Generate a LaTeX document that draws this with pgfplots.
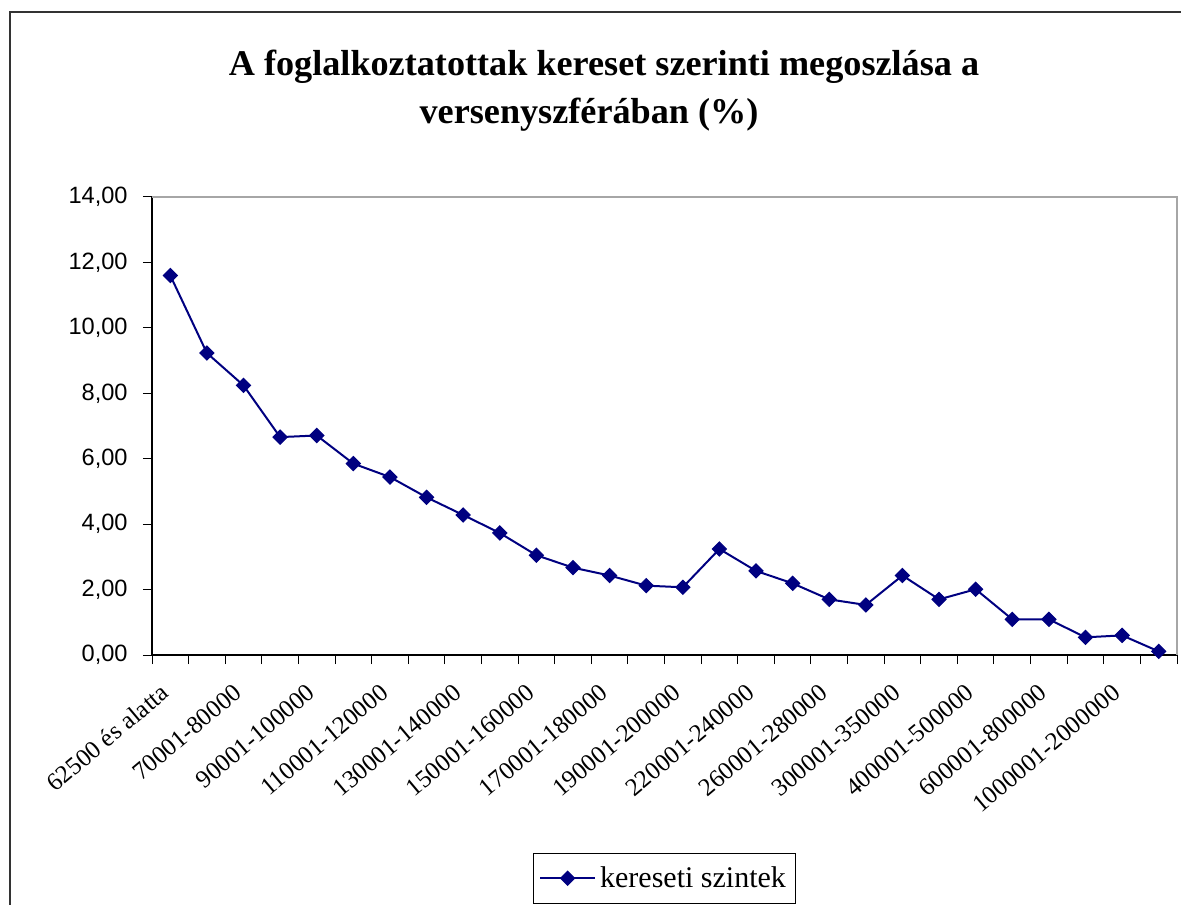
\documentclass[border=0pt]{standalone}
\usepackage{fontspec}
\setmainfont{Liberation Serif}
\newfontfamily\arialfont{Liberation Sans}
\usepackage{pgfplots}
\pgfplotsset{compat=1.18}
\definecolor{navyline}{RGB}{0,0,128}
\begin{document}
\begin{tikzpicture}
\path[use as bounding box] (0,0) rectangle (590.5pt,452pt);
\draw[line width=1pt, black!80] (4.9pt,-5pt) -- (4.9pt,446.2pt) -- (600pt,446.2pt);
\node[font=\fontsize{18.1}{22}\selectfont\bfseries, anchor=base, inner sep=0pt] at (302pt,414pt) {A foglalkoztatottak kereset szerinti megoszlása a};
\node[font=\fontsize{18.1}{22}\selectfont\bfseries, anchor=base, inner sep=0pt] at (294.5pt,390pt) {versenyszférában (\%)};
\begin{axis}[
  scale only axis, width=512.5pt, height=229pt,
  at={(76pt,124.5pt)}, anchor=south west,
  xmin=-0.5, xmax=27.5, ymin=0, ymax=14,
  axis x line*=bottom, axis y line*=left,
  axis line style={-, black, line width=0.7pt},
  ytick={0,2,...,14},
  yticklabel={\pgfmathprintnumber[fixed,fixed zerofill,precision=2,use comma,assume math mode=true]{\tick}},
  yticklabel style={font=\arialfont\fontsize{11.8}{14}\selectfont, inner sep=0pt, xshift=-7.5pt},
  xtick={-0.5,0.5,...,27.5},
  xticklabels={62500 és alatta,,70001-80000,,90001-100000,,110001-120000,,130001-140000,,150001-160000,,170001-180000,,190001-200000,,220001-240000,,260001-280000,,300001-350000,,400001-500000,,600001-800000,,1000001-2000000,,},
  tick align=outside,
  major tick length=4.5pt,
  tick style={black, line width=0.5pt},
  xticklabel style={font=\fontsize{12.5}{14}\selectfont, inner sep=0pt, anchor=east, xshift=6.5pt, yshift=-12.5pt, rotate=40},
  legend style={at={(0.5,-0.432)}, anchor=north, draw=black, line width=0.5pt, font=\fontsize{15}{18}\selectfont, inner xsep=3pt, inner ysep=4.5pt},
  legend image code/.code={\draw[#1, mark repeat=2, mark phase=2] plot coordinates {(0pt,0pt) (13.75pt,0pt) (27.5pt,0pt)};},
  clip=false,
]
\draw[gray!70, line width=0.8pt] (rel axis cs:0,1) -- (rel axis cs:1,1) -- (rel axis cs:1,0);
\addplot[color=navyline, line width=1pt, mark=square*, mark size=2.5pt, mark options={rotate=45, fill=navyline, draw=navyline, line width=0.5pt, solid}] coordinates {
(0,11.60) (1,9.23) (2,8.24) (3,6.66) (4,6.71) (5,5.85) (6,5.44) (7,4.82) (8,4.28) (9,3.73)
(10,3.05) (11,2.67) (12,2.43) (13,2.12) (14,2.07) (15,3.24) (16,2.57) (17,2.19) (18,1.70) (19,1.53)
(20,2.43) (21,1.70) (22,2.01) (23,1.09) (24,1.09) (25,0.54) (26,0.60) (27,0.11)
};
\addlegendentry{kereseti szintek}
\end{axis}
\end{tikzpicture}
\end{document}
